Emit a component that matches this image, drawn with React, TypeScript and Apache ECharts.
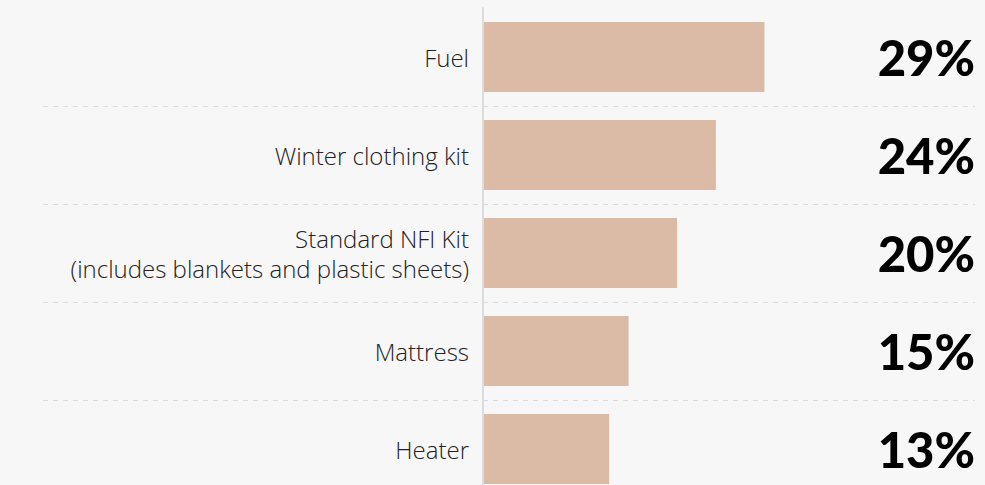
import React, { useEffect, useRef } from "react";
import * as echarts from "echarts";

const categories = [
  "Fuel",
  "Winter clothing kit",
  "Standard NFI Kit\n(includes blankets and plastic sheets)",
  "Mattress",
  "Heater",
];
const values = [29, 24, 20, 15, 13];
const valueLabels = values.map((v) => v + "%");

export default function App() {
  const ref = useRef<HTMLDivElement>(null);
  useEffect(() => {
    if (!ref.current) return;
    const chart = echarts.init(ref.current, null, { renderer: "svg" });
    const gridBase = { top: 8, height: 490, containLabel: false, outerBoundsMode: "none" };
    chart.setOption({
      animation: false,
      backgroundColor: "#f7f7f7",
      grid: [
        { ...gridBase, left: 483, right: 10 },
        { ...gridBase, left: 43, right: 10 },
      ],
      xAxis: [
        { type: "value", gridIndex: 0, min: 0, max: 50.7, show: false },
        { type: "value", gridIndex: 1, min: 0, max: 1, show: false },
      ],
      yAxis: [
        {
          type: "category",
          gridIndex: 0,
          inverse: true,
          data: categories,
          z: 3,
          axisLine: { show: true, lineStyle: { color: "#dcdcdc", width: 2 } },
          axisTick: { show: false },
          splitLine: { show: false },
          axisLabel: {
            fontSize: 24,
            fontFamily: "Open Sans",
            fontWeight: 300,
            color: "#222",
            margin: 14,
            lineHeight: 30,
            align: "right",
          },
        },
        {
          type: "category",
          gridIndex: 0,
          inverse: true,
          position: "right",
          data: valueLabels,
          axisLine: { show: false },
          axisTick: { show: false },
          splitLine: { show: false },
          axisLabel: {
            inside: true,
            margin: 0,
            fontSize: 49,
            fontFamily: "Lato",
            fontWeight: 900,
            color: "#000",
          },
        },
        {
          type: "category",
          gridIndex: 1,
          inverse: true,
          data: categories,
          z: 0,
          axisLine: { show: false },
          axisTick: { show: false },
          axisLabel: { show: false },
          splitLine: {
            show: true,
            interval: (index: number) => index !== 0,
            lineStyle: { color: "#dddddd", type: [5, 5], width: 1 },
          },
        },
      ],
      series: [
        {
          type: "bar",
          xAxisIndex: 0,
          yAxisIndex: 0,
          data: values,
          barCategoryGap: "28.6%",
          itemStyle: { color: "#dbbba5" },
        },
      ],
    });
    return () => chart.dispose();
  }, []);
  return (
    <div
      ref={ref}
      style={{ position: "fixed", left: 0, top: 0, width: 985, height: 485 }}
    />
  );
}
